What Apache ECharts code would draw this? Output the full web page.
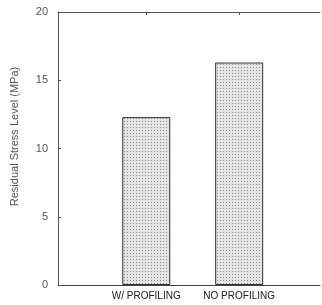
<!DOCTYPE html>
<html>
<head>
<meta charset="utf-8">
<script src="https://cdn.jsdelivr.net/npm/echarts@6/dist/echarts.min.js"></script>
<style>
html,body{margin:0;padding:0;background:#fff;}
#chart{width:322px;height:305px;}
</style>
</head>
<body>
<div id="chart"></div>
<script>
// data
var categories = ['W/ PROFILING', 'NO PROFILING'];
var stressValues = [12.3, 16.3];
var yTicks = [0, 5, 10, 15, 20];

// stipple fill like the printed bars
function makeDots(){
	var c = document.createElement('canvas');
	c.width = 3; c.height = 3;
	var ctx = c.getContext('2d');
	ctx.fillStyle = '#e4e4e4';
	ctx.fillRect(0, 0, 3, 3);
	ctx.fillStyle = '#8a8a8a';
	ctx.fillRect(1, 1, 1, 1);
	return c;
}

var dom = document.getElementById('chart');
var myChart = echarts.init(dom, null, {renderer: 'canvas'});

var pos = categories.map(function(n, i){ return i + 1; });
var barData = stressValues.map(function(v, i){ return [pos[i], v]; });

var option = {
	animation: false,
	grid: {left: 58, right: 2, top: 12, bottom: 20},
	xAxis: [{
		type: 'value',
		min: 0.05,
		max: 2.87,
		splitLine: {show: false},
		axisLine: {lineStyle: {color: '#444', width: 1}},
		axisTick: {show: false},
		axisLabel: {
			customValues: pos,
			color: '#222',
			fontSize: 10,
			fontFamily: 'Liberation Sans',
			margin: 6,
			formatter: function(v){ return categories[Math.round(v) - 1] || ''; }
		}
	}, {
		type: 'value',
		position: 'top',
		min: 0.05,
		max: 2.87,
		splitLine: {show: false},
		axisLine: {lineStyle: {color: '#555', width: 1}},
		axisTick: {inside: true, length: 3, customValues: pos, lineStyle: {color: '#555'}},
		axisLabel: {show: false}
	}],
	yAxis: {
		type: 'value',
		min: yTicks[0],
		max: yTicks[yTicks.length - 1],
		interval: 5,
		name: 'Residual Stress Level (MPa)',
		nameLocation: 'middle',
		nameGap: 38,
		nameTextStyle: {color: '#555', fontSize: 11, fontFamily: 'Liberation Sans', padding: [0, 0, 0, 24]},
		splitLine: {show: false},
		axisLine: {show: true, lineStyle: {color: '#555', width: 1}},
		axisTick: {inside: true, length: 3, lineStyle: {color: '#555'}},
		axisLabel: {color: '#555', fontSize: 11, fontFamily: 'Liberation Sans', margin: 10}
	},
	series: [{
		type: 'bar',
		data: barData,
		barWidth: 48,
		itemStyle: {
			color: {image: makeDots(), repeat: 'repeat'},
			borderColor: '#333',
			borderWidth: 1
		}
	}]
};
myChart.setOption(option);
</script>
</body>
</html>
